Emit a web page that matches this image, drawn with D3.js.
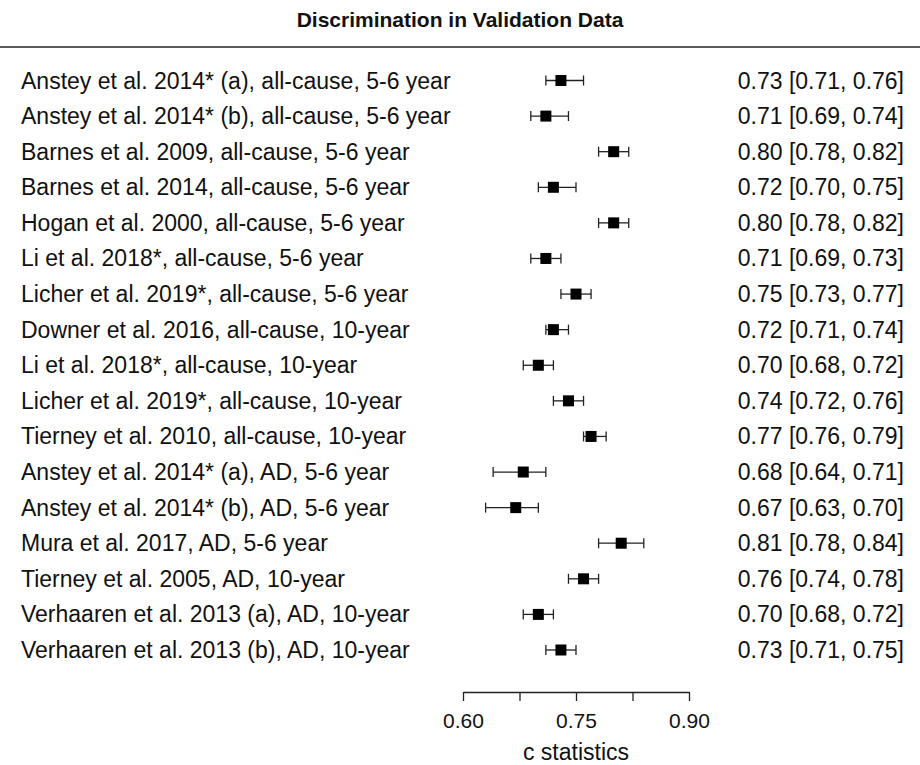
<!DOCTYPE html>
<html>
<head>
<meta charset="utf-8">
<script src="https://cdn.jsdelivr.net/npm/d3@7"></script>
<style>
  body { margin: 0; background: #fff; }
  svg { font-family: "Liberation Sans", Arial, sans-serif; }
</style>
</head>
<body>
<div class="chart"></div>
<script>
const studies = [
  'Anstey et al. 2014* (a), all-cause, 5-6 year',
  'Anstey et al. 2014* (b), all-cause, 5-6 year',
  'Barnes et al. 2009, all-cause, 5-6 year',
  'Barnes et al. 2014, all-cause, 5-6 year',
  'Hogan et al. 2000, all-cause, 5-6 year',
  'Li et al. 2018*, all-cause, 5-6 year',
  'Licher et al. 2019*, all-cause, 5-6 year',
  'Downer et al. 2016, all-cause, 10-year',
  'Li et al. 2018*, all-cause, 10-year',
  'Licher et al. 2019*, all-cause, 10-year',
  'Tierney et al. 2010, all-cause, 10-year',
  'Anstey et al. 2014* (a), AD, 5-6 year',
  'Anstey et al. 2014* (b), AD, 5-6 year',
  'Mura et al. 2017, AD, 5-6 year',
  'Tierney et al. 2005, AD, 10-year',
  'Verhaaren et al. 2013 (a), AD, 10-year',
  'Verhaaren et al. 2013 (b), AD, 10-year'
];
const cstat = [0.73, 0.71, 0.80, 0.72, 0.80, 0.71, 0.75, 0.72, 0.70, 0.74, 0.77, 0.68, 0.67, 0.81, 0.76, 0.70, 0.73];
const lower = [0.71, 0.69, 0.78, 0.70, 0.78, 0.69, 0.73, 0.71, 0.68, 0.72, 0.76, 0.64, 0.63, 0.78, 0.74, 0.68, 0.71];
const upper = [0.76, 0.74, 0.82, 0.75, 0.82, 0.73, 0.77, 0.74, 0.72, 0.76, 0.79, 0.71, 0.70, 0.84, 0.78, 0.72, 0.75];
const axisTicks = [0.60, 0.675, 0.75, 0.825, 0.90];
const axisLabels = [0.60, 0.75, 0.90];

const width = 920, height = 765;
const data = studies.map((s, i) => ({study: s, est: cstat[i], lo: lower[i], hi: upper[i]}));

const svg = d3.select('.chart')
  .append('svg')
    .attr('width', width)
    .attr('height', height);

const x = d3.scaleLinear().domain([0.60, 0.90]).range([463, 689]);
const y = d3.scalePoint()
  .domain(studies)
  .range([80.5, 650]);

// title and rule
svg.append('text')
  .attr('x', 460)
  .attr('y', 27)
  .attr('text-anchor', 'middle')
  .attr('font-size', '21px')
  .attr('font-weight', 'bold')
  .attr('fill', '#111')
  .text('Discrimination in Validation Data');

svg.append('line')
  .attr('x1', 0).attr('x2', width)
  .attr('y1', 47).attr('y2', 47)
  .attr('stroke', '#222')
  .attr('stroke-width', 1.5);

const rows = svg.selectAll('g.row')
  .data(data)
  .enter()
  .append('g')
    .attr('class', 'row')
    .attr('transform', d => `translate(0,${y(d.study)})`);

rows.append('text')
  .attr('x', 21)
  .attr('y', 8)
  .attr('font-size', '23px')
  .attr('fill', '#111')
  .text(d => d.study);

rows.append('text')
  .attr('x', 904)
  .attr('y', 8)
  .attr('text-anchor', 'end')
  .attr('font-size', '23px')
  .attr('fill', '#111')
  .text(d => `${d.est.toFixed(2)} [${d.lo.toFixed(2)}, ${d.hi.toFixed(2)}]`);

rows.append('line')
  .attr('x1', d => x(d.lo))
  .attr('x2', d => x(d.hi))
  .attr('stroke', '#222')
  .attr('stroke-width', 1.3);

['lo', 'hi'].forEach(k => {
  rows.append('line')
    .attr('x1', d => x(d[k]))
    .attr('x2', d => x(d[k]))
    .attr('y1', -5).attr('y2', 5)
    .attr('stroke', '#222')
    .attr('stroke-width', 1.3);
});

rows.append('rect')
  .attr('x', d => x(d.est) - 5.5)
  .attr('y', -5.5)
  .attr('width', 11)
  .attr('height', 11)
  .attr('fill', '#000');

// x axis
const axis = svg.append('g')
  .attr('transform', 'translate(0,692)')
  .call(d3.axisBottom(x)
    .tickValues(axisTicks)
    .tickSize(9)
    .tickSizeOuter(0)
    .tickFormat(v => axisLabels.some(a => Math.abs(a - v) < 1e-9) ? v.toFixed(2) : ''));

axis.select('.domain').attr('stroke', '#222').attr('stroke-width', 1.3);
axis.selectAll('.tick line').attr('stroke', '#222').attr('stroke-width', 1.3);
axis.selectAll('.tick text')
  .attr('font-size', '21px')
  .attr('font-family', '"Liberation Sans", Arial, sans-serif')
  .attr('fill', '#111')
  .attr('dy', '0')
  .attr('y', 36);

svg.append('text')
  .attr('x', x(0.75))
  .attr('y', 760)
  .attr('text-anchor', 'middle')
  .attr('font-size', '23px')
  .attr('fill', '#111')
  .text('c statistics');
</script>
</body>
</html>
